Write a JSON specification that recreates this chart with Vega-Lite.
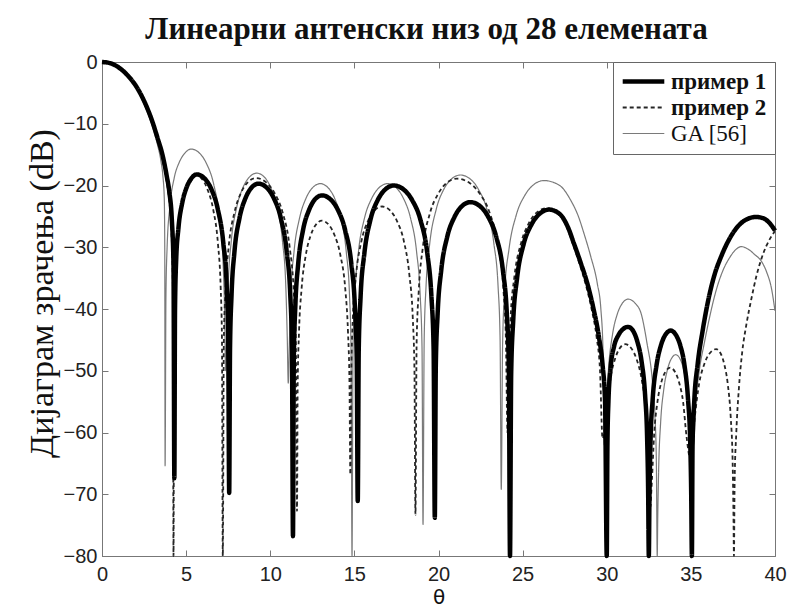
{
  "$schema": "https://vega.github.io/schema/vega-lite/v6.json",
  "width": 673,
  "height": 494,
  "autosize": {"type": "none"},
  "padding": {"left": 102, "top": 62, "right": 16, "bottom": 51},
  "background": "white",
  "title": {
    "text": "Линеарни антенски низ од 28 елемената",
    "font": "Liberation Serif", "fontSize": 31, "fontWeight": "bold", "color": "#111",
    "anchor": "middle", "offset": 22, "baseline": "alphabetic", "dx": -12, "dy": 40
  },
  "datasets": {
    "pattern": [
      {"series":"GA [56]","theta":0,"dB":0},{"series":"GA [56]","theta":0.5,"dB":-0.2},{"series":"GA [56]","theta":1,"dB":-0.9},{"series":"GA [56]","theta":1.5,"dB":-2.2},{"series":"GA [56]","theta":2,"dB":-4.0},{"series":"GA [56]","theta":2.5,"dB":-6.8},{"series":"GA [56]","theta":3,"dB":-10.5},{"series":"GA [56]","theta":3.3,"dB":-13.4},{"series":"GA [56]","theta":3.5,"dB":-16},{"series":"GA [56]","theta":3.62,"dB":-18.5},{"series":"GA [56]","theta":3.7,"dB":-22},{"series":"GA [56]","theta":3.73,"dB":-30},{"series":"GA [56]","theta":3.75,"dB":-65.4},
      {"series":"GA [56]","theta":3.8,"dB":-38},{"series":"GA [56]","theta":3.87,"dB":-30},{"series":"GA [56]","theta":4.03,"dB":-23.5},{"series":"GA [56]","theta":4.29,"dB":-18.8},{"series":"GA [56]","theta":4.6,"dB":-16.2},{"series":"GA [56]","theta":4.91,"dB":-14.8},{"series":"GA [56]","theta":5.3,"dB":-14.1},{"series":"GA [56]","theta":5.81,"dB":-14.8},{"series":"GA [56]","theta":6.22,"dB":-16.5},{"series":"GA [56]","theta":6.63,"dB":-19.7},{"series":"GA [56]","theta":6.98,"dB":-25.2},{"series":"GA [56]","theta":7.19,"dB":-32.1},{"series":"GA [56]","theta":7.29,"dB":-40.6},{"series":"GA [56]","theta":7.35,"dB":-50},
      {"series":"GA [56]","theta":7.41,"dB":-44.5},{"series":"GA [56]","theta":7.5,"dB":-36},{"series":"GA [56]","theta":7.68,"dB":-29.1},{"series":"GA [56]","theta":8.0,"dB":-23.6},{"series":"GA [56]","theta":8.37,"dB":-20.4},{"series":"GA [56]","theta":8.74,"dB":-18.7},{"series":"GA [56]","theta":9.2,"dB":-18},{"series":"GA [56]","theta":9.67,"dB":-18.7},{"series":"GA [56]","theta":10.04,"dB":-20.4},{"series":"GA [56]","theta":10.42,"dB":-23.6},{"series":"GA [56]","theta":10.73,"dB":-29.1},{"series":"GA [56]","theta":10.92,"dB":-36},{"series":"GA [56]","theta":11.01,"dB":-44.5},{"series":"GA [56]","theta":11.07,"dB":-52},
      {"series":"GA [56]","theta":11.13,"dB":-46.2},{"series":"GA [56]","theta":11.22,"dB":-37.7},{"series":"GA [56]","theta":11.41,"dB":-30.8},{"series":"GA [56]","theta":11.74,"dB":-25.3},{"series":"GA [56]","theta":12.12,"dB":-22.1},{"series":"GA [56]","theta":12.5,"dB":-20.4},{"series":"GA [56]","theta":12.98,"dB":-19.7},{"series":"GA [56]","theta":13.45,"dB":-20.4},{"series":"GA [56]","theta":13.83,"dB":-22.1},{"series":"GA [56]","theta":14.2,"dB":-25.3},{"series":"GA [56]","theta":14.52,"dB":-30.8},{"series":"GA [56]","theta":14.71,"dB":-37.7},{"series":"GA [56]","theta":14.8,"dB":-46.2},{"series":"GA [56]","theta":14.86,"dB":-80},
      {"series":"GA [56]","theta":14.92,"dB":-46.2},{"series":"GA [56]","theta":15.03,"dB":-37.7},{"series":"GA [56]","theta":15.24,"dB":-30.8},{"series":"GA [56]","theta":15.6,"dB":-25.3},{"series":"GA [56]","theta":16.03,"dB":-22.1},{"series":"GA [56]","theta":16.45,"dB":-20.4},{"series":"GA [56]","theta":16.98,"dB":-19.7},{"series":"GA [56]","theta":17.5,"dB":-20.4},{"series":"GA [56]","theta":17.92,"dB":-22.1},{"series":"GA [56]","theta":18.34,"dB":-25.3},{"series":"GA [56]","theta":18.7,"dB":-30.8},{"series":"GA [56]","theta":18.91,"dB":-37.7},{"series":"GA [56]","theta":19.02,"dB":-46.2},{"series":"GA [56]","theta":19.08,"dB":-74.9},
      {"series":"GA [56]","theta":19.15,"dB":-44.8},{"series":"GA [56]","theta":19.26,"dB":-36.3},{"series":"GA [56]","theta":19.48,"dB":-29.4},{"series":"GA [56]","theta":19.86,"dB":-23.9},{"series":"GA [56]","theta":20.3,"dB":-20.7},{"series":"GA [56]","theta":20.75,"dB":-19},{"series":"GA [56]","theta":21.3,"dB":-18.3},{"series":"GA [56]","theta":21.91,"dB":-19},{"series":"GA [56]","theta":22.39,"dB":-20.7},{"series":"GA [56]","theta":22.88,"dB":-23.9},{"series":"GA [56]","theta":23.29,"dB":-29.4},{"series":"GA [56]","theta":23.54,"dB":-36.3},{"series":"GA [56]","theta":23.66,"dB":-44.8},{"series":"GA [56]","theta":23.73,"dB":-69.2},
      {"series":"GA [56]","theta":23.81,"dB":-45.7},{"series":"GA [56]","theta":23.93,"dB":-37.2},{"series":"GA [56]","theta":24.19,"dB":-30.3},{"series":"GA [56]","theta":24.62,"dB":-24.8},{"series":"GA [56]","theta":25.13,"dB":-21.6},{"series":"GA [56]","theta":25.64,"dB":-19.9},{"series":"GA [56]","theta":26.27,"dB":-19.2},{"series":"GA [56]","theta":27.2,"dB":-20},{"series":"GA [56]","theta":27.86,"dB":-22.4},{"series":"GA [56]","theta":28.3,"dB":-24.9},{"series":"GA [56]","theta":28.65,"dB":-27.8},{"series":"GA [56]","theta":29.05,"dB":-31.5},{"series":"GA [56]","theta":29.44,"dB":-35.9},{"series":"GA [56]","theta":29.65,"dB":-40},{"series":"GA [56]","theta":29.78,"dB":-47},{"series":"GA [56]","theta":29.85,"dB":-62},
      {"series":"GA [56]","theta":29.96,"dB":-56.4},{"series":"GA [56]","theta":30.11,"dB":-49.5},{"series":"GA [56]","theta":30.35,"dB":-44},{"series":"GA [56]","theta":30.63,"dB":-40.8},{"series":"GA [56]","theta":30.92,"dB":-39.1},{"series":"GA [56]","theta":31.27,"dB":-38.4},{"series":"GA [56]","theta":31.7,"dB":-39.1},{"series":"GA [56]","theta":32.05,"dB":-40.8},{"series":"GA [56]","theta":32.39,"dB":-45.5},{"series":"GA [56]","theta":32.69,"dB":-51},{"series":"GA [56]","theta":32.86,"dB":-57},{"series":"GA [56]","theta":32.95,"dB":-65},{"series":"GA [56]","theta":33,"dB":-80},
      {"series":"GA [56]","theta":33.03,"dB":-73.9},{"series":"GA [56]","theta":33.09,"dB":-65.4},{"series":"GA [56]","theta":33.2,"dB":-58.5},{"series":"GA [56]","theta":33.39,"dB":-53},{"series":"GA [56]","theta":33.61,"dB":-49.8},{"series":"GA [56]","theta":33.83,"dB":-48.1},{"series":"GA [56]","theta":34.1,"dB":-47.4},{"series":"GA [56]","theta":34.36,"dB":-48.1},{"series":"GA [56]","theta":34.57,"dB":-49.8},{"series":"GA [56]","theta":34.78,"dB":-53},{"series":"GA [56]","theta":34.96,"dB":-58.5},{"series":"GA [56]","theta":35.15,"dB":-62},
      {"series":"GA [56]","theta":35.3,"dB":-55},{"series":"GA [56]","theta":35.5,"dB":-50},{"series":"GA [56]","theta":35.8,"dB":-45.5},{"series":"GA [56]","theta":36.1,"dB":-41.5},{"series":"GA [56]","theta":36.5,"dB":-37},{"series":"GA [56]","theta":36.9,"dB":-33.8},{"series":"GA [56]","theta":37.3,"dB":-31.7},{"series":"GA [56]","theta":37.7,"dB":-30.3},{"series":"GA [56]","theta":38,"dB":-29.9},{"series":"GA [56]","theta":38.4,"dB":-30.3},{"series":"GA [56]","theta":38.8,"dB":-31.2},{"series":"GA [56]","theta":39.2,"dB":-32.3},{"series":"GA [56]","theta":39.5,"dB":-34},{"series":"GA [56]","theta":39.8,"dB":-36.8},{"series":"GA [56]","theta":40,"dB":-40.3},

      {"series":"пример 2","theta":0,"dB":0},{"series":"пример 2","theta":0.5,"dB":-0.2},{"series":"пример 2","theta":1,"dB":-0.9},{"series":"пример 2","theta":1.5,"dB":-2.1},{"series":"пример 2","theta":2,"dB":-3.9},{"series":"пример 2","theta":2.5,"dB":-6.5},{"series":"пример 2","theta":3,"dB":-10},{"series":"пример 2","theta":3.3,"dB":-12.7},{"series":"пример 2","theta":3.6,"dB":-15.8},{"series":"пример 2","theta":3.85,"dB":-19.5},{"series":"пример 2","theta":4,"dB":-22.5},{"series":"пример 2","theta":4.12,"dB":-27},{"series":"пример 2","theta":4.21,"dB":-36},{"series":"пример 2","theta":4.25,"dB":-80},
      {"series":"пример 2","theta":4.29,"dB":-40},{"series":"пример 2","theta":4.35,"dB":-32.5},{"series":"пример 2","theta":4.48,"dB":-27.5},{"series":"пример 2","theta":4.71,"dB":-23.2},{"series":"пример 2","theta":4.97,"dB":-20.5},{"series":"пример 2","theta":5.23,"dB":-19},{"series":"пример 2","theta":5.55,"dB":-18.3},{"series":"пример 2","theta":5.96,"dB":-19},{"series":"пример 2","theta":6.28,"dB":-20.7},{"series":"пример 2","theta":6.61,"dB":-23.9},{"series":"пример 2","theta":6.89,"dB":-29.4},{"series":"пример 2","theta":7.05,"dB":-36.3},{"series":"пример 2","theta":7.13,"dB":-44.8},{"series":"пример 2","theta":7.18,"dB":-80},
      {"series":"пример 2","theta":7.24,"dB":-45.3},{"series":"пример 2","theta":7.34,"dB":-36.8},{"series":"пример 2","theta":7.53,"dB":-29.9},{"series":"пример 2","theta":7.87,"dB":-24.4},{"series":"пример 2","theta":8.26,"dB":-21.2},{"series":"пример 2","theta":8.66,"dB":-19.5},{"series":"пример 2","theta":9.15,"dB":-18.8},{"series":"пример 2","theta":9.76,"dB":-19.5},{"series":"пример 2","theta":10.25,"dB":-21.2},{"series":"пример 2","theta":10.74,"dB":-24.4},{"series":"пример 2","theta":11.15,"dB":-29.9},{"series":"пример 2","theta":11.39,"dB":-36.8},{"series":"пример 2","theta":11.52,"dB":-45.3},{"series":"пример 2","theta":11.59,"dB":-72.7},
      {"series":"пример 2","theta":11.63,"dB":-52.2},{"series":"пример 2","theta":11.71,"dB":-43.7},{"series":"пример 2","theta":11.86,"dB":-36.8},{"series":"пример 2","theta":12.11,"dB":-31.3},{"series":"пример 2","theta":12.4,"dB":-28.1},{"series":"пример 2","theta":12.7,"dB":-26.4},{"series":"пример 2","theta":13.07,"dB":-25.7},{"series":"пример 2","theta":13.49,"dB":-26.4},{"series":"пример 2","theta":13.83,"dB":-28.1},{"series":"пример 2","theta":14.17,"dB":-31.3},{"series":"пример 2","theta":14.46,"dB":-36.8},{"series":"пример 2","theta":14.62,"dB":-43.7},{"series":"пример 2","theta":14.71,"dB":-52.2},{"series":"пример 2","theta":14.76,"dB":-66.8},
      {"series":"пример 2","theta":14.82,"dB":-49.9},{"series":"пример 2","theta":14.91,"dB":-41.4},{"series":"пример 2","theta":15.1,"dB":-34.5},{"series":"пример 2","theta":15.42,"dB":-29},{"series":"пример 2","theta":15.8,"dB":-25.8},{"series":"пример 2","theta":16.18,"dB":-24.1},{"series":"пример 2","theta":16.65,"dB":-23.4},{"series":"пример 2","theta":17.14,"dB":-24.1},{"series":"пример 2","theta":17.54,"dB":-25.8},{"series":"пример 2","theta":17.94,"dB":-29},{"series":"пример 2","theta":18.27,"dB":-34.5},{"series":"пример 2","theta":18.47,"dB":-41.4},{"series":"пример 2","theta":18.57,"dB":-49.9},{"series":"пример 2","theta":18.63,"dB":-73.3},
      {"series":"пример 2","theta":18.7,"dB":-45.4},{"series":"пример 2","theta":18.83,"dB":-36.9},{"series":"пример 2","theta":19.07,"dB":-30},{"series":"пример 2","theta":19.49,"dB":-24.5},{"series":"пример 2","theta":19.99,"dB":-21.3},{"series":"пример 2","theta":20.48,"dB":-19.6},{"series":"пример 2","theta":21.1,"dB":-18.9},{"series":"пример 2","theta":21.85,"dB":-19.6},{"series":"пример 2","theta":22.45,"dB":-21.3},{"series":"пример 2","theta":23.05,"dB":-24.5},{"series":"пример 2","theta":23.56,"dB":-30},{"series":"пример 2","theta":23.86,"dB":-36.9},{"series":"пример 2","theta":24.01,"dB":-45.4},{"series":"пример 2","theta":24.1,"dB":-60},
      {"series":"пример 2","theta":24.17,"dB":-50.2},{"series":"пример 2","theta":24.28,"dB":-41.7},{"series":"пример 2","theta":24.51,"dB":-34.8},{"series":"пример 2","theta":24.91,"dB":-29.3},{"series":"пример 2","theta":25.37,"dB":-26.1},{"series":"пример 2","theta":25.83,"dB":-24.4},{"series":"пример 2","theta":26.4,"dB":-23.7},{"series":"пример 2","theta":27.1,"dB":-24.4},{"series":"пример 2","theta":27.6,"dB":-26.6},{"series":"пример 2","theta":27.95,"dB":-29.2},{"series":"пример 2","theta":28.35,"dB":-32.4},{"series":"пример 2","theta":28.75,"dB":-36},{"series":"пример 2","theta":29.1,"dB":-40},{"series":"пример 2","theta":29.4,"dB":-44.6},{"series":"пример 2","theta":29.6,"dB":-50},{"series":"пример 2","theta":29.75,"dB":-61},
      {"series":"пример 2","theta":30,"dB":-56.8},{"series":"пример 2","theta":30.22,"dB":-51.3},{"series":"пример 2","theta":30.49,"dB":-48.1},{"series":"пример 2","theta":30.76,"dB":-46.4},{"series":"пример 2","theta":31.1,"dB":-45.7},{"series":"пример 2","theta":31.47,"dB":-46.4},{"series":"пример 2","theta":31.77,"dB":-48.1},{"series":"пример 2","theta":32.07,"dB":-51.3},{"series":"пример 2","theta":32.33,"dB":-56.8},{"series":"пример 2","theta":32.48,"dB":-63.7},{"series":"пример 2","theta":32.55,"dB":-68},{"series":"пример 2","theta":32.6,"dB":-72},
      {"series":"пример 2","theta":32.64,"dB":-70},{"series":"пример 2","theta":32.69,"dB":-67.5},{"series":"пример 2","theta":32.81,"dB":-60.6},{"series":"пример 2","theta":33.01,"dB":-55.1},{"series":"пример 2","theta":33.24,"dB":-51.9},{"series":"пример 2","theta":33.48,"dB":-50.2},{"series":"пример 2","theta":33.77,"dB":-49.5},{"series":"пример 2","theta":34.06,"dB":-50.2},{"series":"пример 2","theta":34.3,"dB":-51.9},{"series":"пример 2","theta":34.54,"dB":-55.1},{"series":"пример 2","theta":34.74,"dB":-60.6},{"series":"пример 2","theta":34.95,"dB":-64},
      {"series":"пример 2","theta":35.07,"dB":-62},{"series":"пример 2","theta":35.23,"dB":-57.6},{"series":"пример 2","theta":35.49,"dB":-52.1},{"series":"пример 2","theta":35.8,"dB":-48.9},{"series":"пример 2","theta":36.11,"dB":-47.2},{"series":"пример 2","theta":36.5,"dB":-46.5},{"series":"пример 2","theta":36.77,"dB":-47.2},{"series":"пример 2","theta":36.98,"dB":-48.9},{"series":"пример 2","theta":37.19,"dB":-52.1},{"series":"пример 2","theta":37.37,"dB":-57.6},{"series":"пример 2","theta":37.48,"dB":-64.5},{"series":"пример 2","theta":37.53,"dB":-73},{"series":"пример 2","theta":37.56,"dB":-80},
      {"series":"пример 2","theta":37.6,"dB":-68},{"series":"пример 2","theta":37.7,"dB":-60},{"series":"пример 2","theta":37.85,"dB":-53},{"series":"пример 2","theta":38.05,"dB":-47},{"series":"пример 2","theta":38.3,"dB":-42.5},{"series":"пример 2","theta":38.6,"dB":-38.3},{"series":"пример 2","theta":38.9,"dB":-34.6},{"series":"пример 2","theta":39.2,"dB":-31.8},{"series":"пример 2","theta":39.5,"dB":-29.7},{"series":"пример 2","theta":39.75,"dB":-28.4},{"series":"пример 2","theta":40,"dB":-27.4},

      {"series":"пример 1","theta":0,"dB":0},{"series":"пример 1","theta":0.5,"dB":-0.2},{"series":"пример 1","theta":1,"dB":-0.9},{"series":"пример 1","theta":1.5,"dB":-2.1},{"series":"пример 1","theta":2,"dB":-3.8},{"series":"пример 1","theta":2.5,"dB":-6.3},{"series":"пример 1","theta":3,"dB":-9.7},{"series":"пример 1","theta":3.3,"dB":-12.3},{"series":"пример 1","theta":3.6,"dB":-15.1},{"series":"пример 1","theta":3.85,"dB":-18.5},{"series":"пример 1","theta":4,"dB":-21},{"series":"пример 1","theta":4.15,"dB":-25.5},{"series":"пример 1","theta":4.25,"dB":-33},{"series":"пример 1","theta":4.3,"dB":-67.4},
      {"series":"пример 1","theta":4.34,"dB":-40},{"series":"пример 1","theta":4.41,"dB":-32},{"series":"пример 1","theta":4.54,"dB":-27},{"series":"пример 1","theta":4.77,"dB":-22.8},{"series":"пример 1","theta":5.03,"dB":-20.3},{"series":"пример 1","theta":5.3,"dB":-18.9},{"series":"пример 1","theta":5.63,"dB":-18.2},{"series":"пример 1","theta":6.11,"dB":-18.9},{"series":"пример 1","theta":6.5,"dB":-20.6},{"series":"пример 1","theta":6.88,"dB":-23.8},{"series":"пример 1","theta":7.21,"dB":-29.3},{"series":"пример 1","theta":7.41,"dB":-36.2},{"series":"пример 1","theta":7.5,"dB":-44.7},{"series":"пример 1","theta":7.56,"dB":-69.8},
      {"series":"пример 1","theta":7.61,"dB":-46.2},{"series":"пример 1","theta":7.7,"dB":-37.7},{"series":"пример 1","theta":7.87,"dB":-30.8},{"series":"пример 1","theta":8.17,"dB":-25.3},{"series":"пример 1","theta":8.52,"dB":-22.1},{"series":"пример 1","theta":8.87,"dB":-20.4},{"series":"пример 1","theta":9.3,"dB":-19.7},{"series":"пример 1","theta":9.81,"dB":-20.4},{"series":"пример 1","theta":10.22,"dB":-22.1},{"series":"пример 1","theta":10.63,"dB":-25.3},{"series":"пример 1","theta":10.98,"dB":-30.8},{"series":"пример 1","theta":11.19,"dB":-37.7},{"series":"пример 1","theta":11.29,"dB":-46.2},{"series":"пример 1","theta":11.35,"dB":-76.8},
      {"series":"пример 1","theta":11.4,"dB":-48.1},{"series":"пример 1","theta":11.49,"dB":-39.6},{"series":"пример 1","theta":11.66,"dB":-32.7},{"series":"пример 1","theta":11.95,"dB":-27.2},{"series":"пример 1","theta":12.3,"dB":-24},{"series":"пример 1","theta":12.64,"dB":-22.3},{"series":"пример 1","theta":13.07,"dB":-21.6},{"series":"пример 1","theta":13.6,"dB":-22.3},{"series":"пример 1","theta":14.03,"dB":-24},{"series":"пример 1","theta":14.45,"dB":-27.2},{"series":"пример 1","theta":14.82,"dB":-32.7},{"series":"пример 1","theta":15.03,"dB":-39.6},{"series":"пример 1","theta":15.14,"dB":-48.1},{"series":"пример 1","theta":15.2,"dB":-71.1},
      {"series":"пример 1","theta":15.26,"dB":-46.5},{"series":"пример 1","theta":15.37,"dB":-38},{"series":"пример 1","theta":15.59,"dB":-31.1},{"series":"пример 1","theta":15.95,"dB":-25.6},{"series":"пример 1","theta":16.38,"dB":-22.4},{"series":"пример 1","theta":16.81,"dB":-20.7},{"series":"пример 1","theta":17.34,"dB":-20},{"series":"пример 1","theta":17.95,"dB":-20.7},{"series":"пример 1","theta":18.44,"dB":-22.4},{"series":"пример 1","theta":18.93,"dB":-25.6},{"series":"пример 1","theta":19.34,"dB":-31.1},{"series":"пример 1","theta":19.58,"dB":-38},{"series":"пример 1","theta":19.71,"dB":-46.5},{"series":"пример 1","theta":19.78,"dB":-73.8},
      {"series":"пример 1","theta":19.84,"dB":-49.2},{"series":"пример 1","theta":19.95,"dB":-40.7},{"series":"пример 1","theta":20.16,"dB":-33.8},{"series":"пример 1","theta":20.52,"dB":-28.3},{"series":"пример 1","theta":20.95,"dB":-25.1},{"series":"пример 1","theta":21.37,"dB":-23.4},{"series":"пример 1","theta":21.9,"dB":-22.7},{"series":"пример 1","theta":22.49,"dB":-23.4},{"series":"пример 1","theta":22.96,"dB":-25.1},{"series":"пример 1","theta":23.43,"dB":-28.3},{"series":"пример 1","theta":23.83,"dB":-33.8},{"series":"пример 1","theta":24.06,"dB":-40.7},{"series":"пример 1","theta":24.18,"dB":-49.2},{"series":"пример 1","theta":24.25,"dB":-80},
      {"series":"пример 1","theta":24.32,"dB":-50.4},{"series":"пример 1","theta":24.44,"dB":-41.9},{"series":"пример 1","theta":24.67,"dB":-35},{"series":"пример 1","theta":25.06,"dB":-29.5},{"series":"пример 1","theta":25.53,"dB":-26.3},{"series":"пример 1","theta":26,"dB":-24.6},{"series":"пример 1","theta":26.57,"dB":-23.9},{"series":"пример 1","theta":27.2,"dB":-24.6},{"series":"пример 1","theta":27.7,"dB":-26.8},{"series":"пример 1","theta":28.05,"dB":-29.4},{"series":"пример 1","theta":28.45,"dB":-32.5},{"series":"пример 1","theta":28.85,"dB":-35.9},{"series":"пример 1","theta":29.2,"dB":-39.8},{"series":"пример 1","theta":29.54,"dB":-44.6},{"series":"пример 1","theta":29.75,"dB":-49},{"series":"пример 1","theta":29.9,"dB":-55},{"series":"пример 1","theta":30,"dB":-80},
      {"series":"пример 1","theta":30.04,"dB":-62},{"series":"пример 1","theta":30.1,"dB":-55},{"series":"пример 1","theta":30.23,"dB":-49.5},{"series":"пример 1","theta":30.44,"dB":-46},{"series":"пример 1","theta":30.7,"dB":-44.2},{"series":"пример 1","theta":30.95,"dB":-43.3},{"series":"пример 1","theta":31.27,"dB":-42.9},{"series":"пример 1","theta":31.58,"dB":-43.6},{"series":"пример 1","theta":31.82,"dB":-45.3},{"series":"пример 1","theta":32.07,"dB":-48.5},{"series":"пример 1","theta":32.28,"dB":-54},{"series":"пример 1","theta":32.4,"dB":-60.9},{"series":"пример 1","theta":32.46,"dB":-69.4},{"series":"пример 1","theta":32.5,"dB":-80},
      {"series":"пример 1","theta":32.54,"dB":-70},{"series":"пример 1","theta":32.6,"dB":-61.5},{"series":"пример 1","theta":32.73,"dB":-54.6},{"series":"пример 1","theta":32.96,"dB":-49.1},{"series":"пример 1","theta":33.22,"dB":-45.9},{"series":"пример 1","theta":33.48,"dB":-44.2},{"series":"пример 1","theta":33.8,"dB":-43.5},{"series":"пример 1","theta":34.11,"dB":-44.2},{"series":"пример 1","theta":34.37,"dB":-45.9},{"series":"пример 1","theta":34.62,"dB":-49.1},{"series":"пример 1","theta":34.83,"dB":-54.6},{"series":"пример 1","theta":34.96,"dB":-61.5},{"series":"пример 1","theta":35.02,"dB":-70},{"series":"пример 1","theta":35.06,"dB":-80},
      {"series":"пример 1","theta":35.1,"dB":-62},{"series":"пример 1","theta":35.2,"dB":-55},{"series":"пример 1","theta":35.4,"dB":-49},{"series":"пример 1","theta":35.7,"dB":-43.5},{"series":"пример 1","theta":36,"dB":-39},{"series":"пример 1","theta":36.4,"dB":-34.5},{"series":"пример 1","theta":36.8,"dB":-31.5},{"series":"пример 1","theta":37.3,"dB":-28.6},{"series":"пример 1","theta":37.8,"dB":-26.6},{"series":"пример 1","theta":38.3,"dB":-25.5},{"series":"пример 1","theta":38.87,"dB":-25.1},{"series":"пример 1","theta":39.3,"dB":-25.3},{"series":"пример 1","theta":39.65,"dB":-26},{"series":"пример 1","theta":40,"dB":-27.3}
    ]
  },
  "data": {"name": "pattern"},
  "layer": [
    {
      "mark": {"type": "line", "interpolate": "monotone", "strokeCap": "butt", "strokeJoin": "round"},
      "encoding": {
        "x": {
          "field": "theta", "type": "quantitative",
          "scale": {"domain": [0, 40], "nice": false, "zero": false},
          "axis": {
            "orient": "bottom", "values": [0, 5, 10, 15, 20, 25, 30, 35, 40],
            "tickSize": -6, "labelPadding": 14, "labelFlush": false, "labelOverlap": false,
            "title": "θ", "titleY": 47, "titleBaseline": "alphabetic",
            "titleFont": "DejaVu Sans", "titleFontSize": 20, "titleFontWeight": "normal"
          }
        },
        "y": {
          "field": "dB", "type": "quantitative",
          "scale": {"domain": [-80, 0], "nice": false, "zero": false},
          "axis": {
            "orient": "left", "values": [-80, -70, -60, -50, -40, -30, -20, -10, 0],
            "tickSize": -6, "labelPadding": 11, "labelFlush": false, "labelOverlap": false,
            "title": "Дијаграм зрачења (dB)", "titleX": -60, "titleY": 231,
            "titleAngle": -90, "titleAlign": "center", "titleBaseline": "middle",
            "titleFont": "Liberation Serif", "titleFontSize": 34, "titleFontWeight": "normal"
          }
        },
        "color": {
          "field": "series", "type": "nominal",
          "scale": {"domain": ["пример 1", "пример 2", "GA [56]"], "range": ["#000000", "#262626", "#7a7a7a"]},
          "legend": {
            "title": null, "orient": "top-right", "offset": 0,
            "fillColor": "white", "strokeColor": "#666", "padding": 8,
            "symbolType": "M-2.6,0H2.6", "symbolSize": 256, "symbolOffset": 11,
            "labelFont": "Liberation Serif", "labelFontSize": 23, "labelFontWeight": "bold",
            "labelColor": "#111", "labelOffset": 16, "rowPadding": 2,
            "encode": {
              "labels": {"update": {"fontWeight": {"signal": "datum.label === 'GA [56]' ? 'normal' : 'bold'"}}}
            }
          }
        },
        "strokeDash": {
          "field": "series", "type": "nominal",
          "scale": {"domain": ["пример 1", "пример 2", "GA [56]"], "range": [[1, 0], [4, 3], [1, 0]]}
        },
        "strokeWidth": {
          "field": "series", "type": "nominal",
          "scale": {"type": "ordinal", "domain": ["пример 1", "пример 2", "GA [56]"], "range": [4.5, 1.8, 1.2]}
        }
      }
    },
    {
      "mark": {"type": "line", "opacity": 0},
      "encoding": {
        "x": {
          "field": "theta", "type": "quantitative",
          "axis": {"orient": "top", "values": [5, 10, 15, 20, 25, 30, 35], "labels": false, "domain": false, "tickSize": -6, "title": null, "minExtent": 0, "maxExtent": 0}
        },
        "y": {
          "field": "dB", "type": "quantitative",
          "axis": {"orient": "right", "values": [-70, -60, -50, -40, -30, -20, -10], "labels": false, "domain": false, "tickSize": -6, "title": null, "minExtent": 0, "maxExtent": 0}
        }
      }
    }
  ],
  "resolve": {"axis": {"x": "independent", "y": "independent"}},
  "config": {
    "view": {"stroke": "#777", "strokeWidth": 1},
    "axis": {
      "grid": false, "domainColor": "#777", "tickColor": "#777",
      "labelFont": "Liberation Sans", "labelFontSize": 20, "labelColor": "#222",
      "titleColor": "#111"
    }
  }
}
